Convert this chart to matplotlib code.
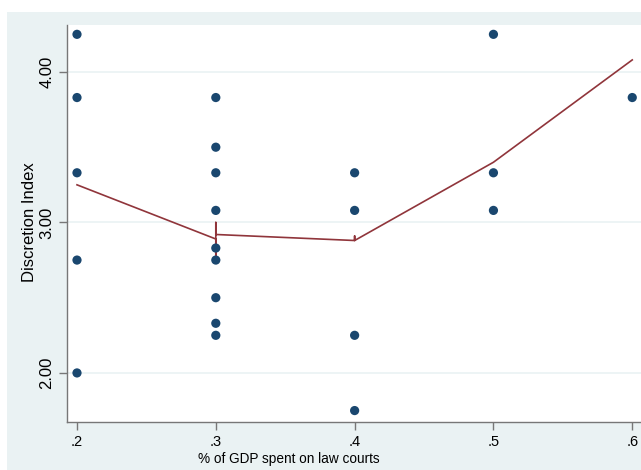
import matplotlib
matplotlib.use("Agg")
import matplotlib.pyplot as plt
from matplotlib.patches import Rectangle

plt.rcParams['font.family'] = ['Liberation Sans', 'DejaVu Sans']

# scatter data
spend = [0.2, 0.2, 0.2, 0.2, 0.2,
         0.3, 0.3, 0.3, 0.3, 0.3, 0.3, 0.3, 0.3, 0.3,
         0.4, 0.4, 0.4, 0.4,
         0.5, 0.5, 0.5,
         0.6]
discretion = [4.25, 3.83, 3.33, 2.75, 2.00,
              3.83, 3.50, 3.33, 3.08, 2.83, 2.75, 2.50, 2.33, 2.25,
              3.33, 3.08, 2.25, 1.75,
              4.25, 3.33, 3.08,
              3.83]

# fitted (lowess) line
fit_x = [0.2, 0.3, 0.3, 0.3, 0.3, 0.4, 0.4, 0.4, 0.5, 0.6]
fit_y = [3.25, 2.89, 2.75, 3.00, 2.92, 2.88, 2.91, 2.88, 3.40, 4.08]

x_ticks = [0.2, 0.3, 0.4, 0.5, 0.6]
x_labels = ['.2', '.3', '.4', '.5', '.6']
y_ticks = [2.0, 3.0, 4.0]
y_labels = ['2.00', '3.00', '4.00']

W, H = 641, 470
fig = plt.figure(figsize=(W / 100, H / 100), dpi=100)
fig.patch.set_facecolor('white')
bg = Rectangle((7 / W, 0), 1 - 7 / W, (H - 12) / H, transform=fig.transFigure,
               facecolor='#EAF2F3', edgecolor='none', zorder=-10)
fig.add_artist(bg)

ax = fig.add_axes([67 / W, (H - 422) / H, (641 - 67) / W, (422 - 25) / H])
ax.set_zorder(1)
ax.set_facecolor('white')
ax.set_xlim(0.1928, 0.6063)
ax.set_ylim(1.674, 4.312)

for yt in y_ticks:
    ax.axhline(yt, color='#EAF2F3', lw=1.2, zorder=1)

ax.plot(fit_x, fit_y, color='#90353B', lw=1.2, zorder=2)
ax.scatter(spend, discretion, s=44, color='#1A476F', edgecolors='none', zorder=3)

for s in ['top', 'right']:
    ax.spines[s].set_visible(False)
for s in ['left', 'bottom']:
    ax.spines[s].set_color('#777777')
    ax.spines[s].set_linewidth(1.0)

ax.set_xticks(x_ticks)
ax.set_xticklabels(x_labels, fontsize=10.5)
ax.set_yticks(y_ticks)
ax.set_yticklabels(y_labels, fontsize=12, rotation=90, va='center')
ax.tick_params(axis='both', direction='out', length=6, width=1.0, color='#777777',
               labelcolor='black', pad=3)

ax.set_xlabel('% of GDP spent on law courts', fontsize=9.8)
ax.xaxis.set_label_coords(0.387, -0.075)
ax.set_ylabel('Discretion Index', fontsize=12)
ax.yaxis.set_label_coords(-0.052, 0.504)

fig.savefig('out.png', dpi=100)
